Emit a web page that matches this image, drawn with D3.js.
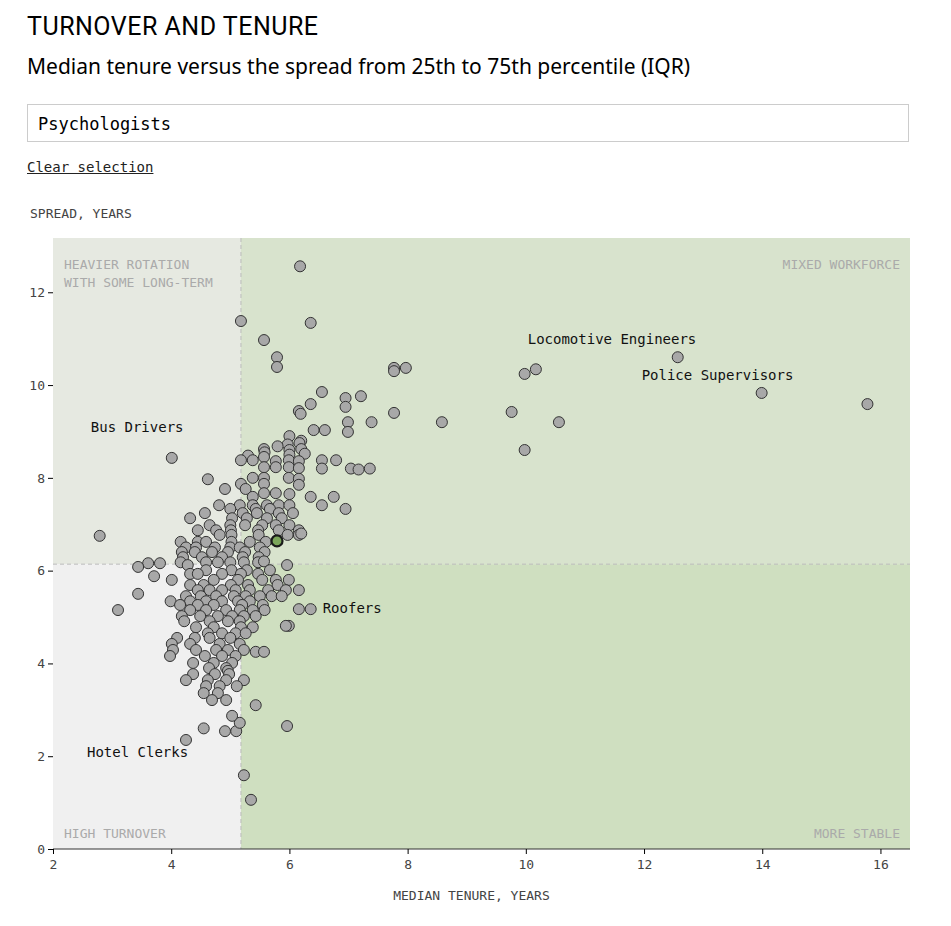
<!DOCTYPE html>
<html><head><meta charset="utf-8">
<script src="https://cdn.jsdelivr.net/npm/d3@7"></script>
<style>
body{margin:0;background:#fff;font-family:"DejaVu Sans Mono",monospace;}
.title{position:absolute;left:27px;top:12px;font:25px "Roboto",sans-serif;letter-spacing:0.5px;}
.sub{position:absolute;left:27px;top:52px;font:21px "Noto Sans",sans-serif;}
.box{position:absolute;left:27px;top:104px;width:882px;height:38px;border:1px solid #ccc;box-sizing:border-box;font-size:17px;padding:9px 10px;}
.clear{position:absolute;left:27px;top:159px;font-size:14px;text-decoration:underline;color:#222;}
svg{position:absolute;left:0;top:0;}
</style></head><body>
<div class="title">TURNOVER AND TENURE</div>
<div class="sub">Median tenure versus the spread from 25th to 75th percentile (IQR)</div>
<div class="box">Psychologists</div>
<div class="clear">Clear selection</div>
<svg width="951" height="926"></script>
<script>
// occupations: [median tenure, IQR spread]
var highlighted = [5.79, 6.64];
var labelled = [
  {name: "Locomotive Engineers", t: 12.57, s: 10.6, dx: -150, dy: -13},
  {name: "Police Supervisors", t: 13.99, s: 9.83, dx: -120, dy: -13},
  {name: "Bus Drivers", t: 4.01, s: 8.43, dx: -81, dy: -26},
  {name: "Roofers", t: 6.36, s: 5.17, dx: 12, dy: 4},
  {name: "Hotel Clerks", t: 4.25, s: 2.35, dx: -99, dy: 17}
];
var points = [
 [6.18,12.56],[5.18,11.38],[6.36,11.34],[5.57,10.97],[5.79,10.6],[5.79,10.39],
 [10.17,10.34],[9.98,10.24],[7.77,10.37],[7.97,10.37],[7.77,10.3],[6.55,9.85],
 [6.95,9.72],[7.21,9.76],[6.95,9.53],[6.36,9.59],[6.16,9.44],[6.19,9.38],[15.78,9.59],
 [9.76,9.42],[7.77,9.4],[8.58,9.2],[10.56,9.2],[7.39,9.2],[6.99,9.2],[6.41,9.03],
 [6.6,9.03],[6.99,8.99],[9.98,8.6],[4.62,7.97],[2.79,6.75],[3.61,6.16],[3.81,6.16],
 [3.44,6.08],[3.71,5.88],[3.44,5.5],[3.1,5.15],[6.16,5.17],[5.99,4.81],[5.94,4.81],
 [5.43,4.25],[5.57,4.25],[5.43,3.1],[5.96,2.65],[4.55,2.6],[5.23,1.59],[5.35,1.06],
 [4.91,2.54],[5.1,2.54],[5.16,2.72],
 [6.0,8.9],[6.2,8.8],[5.97,8.72],[6.17,8.75],[5.8,8.68],[5.57,8.62],
 [5.58,8.55],[6.0,8.6],[6.2,8.62],[5.3,8.48],[5.57,8.45],[6.0,8.5],[6.26,8.52],
 [5.18,8.38],[5.38,8.38],[5.77,8.36],[5.99,8.38],[6.16,8.36],[6.55,8.38],[6.79,8.38],
 [5.57,8.23],[5.77,8.23],[5.99,8.23],[6.16,8.21],[6.55,8.2],[7.04,8.2],[7.36,8.2],[7.17,8.18],
 [5.38,8.0],[5.57,8.0],[5.99,8.0],[6.16,7.98],[5.18,7.87],[5.57,7.87],[6.16,7.85],
 [4.91,7.76],[5.26,7.76],[5.57,7.67],[5.77,7.67],[6.0,7.65],[5.38,7.59],[6.36,7.59],[6.75,7.59],
 [4.81,7.41],[5.16,7.41],[5.38,7.41],[5.62,7.41],[5.82,7.41],[6.0,7.41],[6.55,7.41],
 [5.0,7.33],[5.43,7.33],[5.67,7.33],[6.95,7.33],[4.57,7.24],[5.21,7.24],[5.45,7.24],[5.82,7.24],[6.06,7.24],
 [4.32,7.13],[5.03,7.13],[5.28,7.13],[5.62,7.13],[5.87,7.13],
 [4.65,6.98],[5.0,6.98],[5.25,6.98],[5.54,6.98],[5.77,6.98],[6.0,6.98],
 [4.45,6.87],[4.76,6.87],[5.01,6.87],[5.47,6.87],[5.82,6.87],[6.16,6.87],
 [4.82,6.77],[5.02,6.77],[5.48,6.77],[5.97,6.77],[6.16,6.77],[6.2,6.8],
 [4.16,6.62],[4.45,6.62],[4.59,6.62],[5.02,6.62],[5.33,6.62],[5.6,6.62],
 [4.25,6.5],[4.42,6.5],[4.74,6.5],[5.0,6.5],[5.16,6.5],[5.5,6.5],
 [4.18,6.4],[4.4,6.4],[4.69,6.4],[4.96,6.4],[5.25,6.4],[5.58,6.4],
 [4.2,6.29],[4.52,6.29],[4.86,6.29],[5.21,6.29],[5.48,6.29],
 [4.16,6.18],[4.59,6.18],[4.79,6.18],[5.0,6.18],[5.23,6.18],[5.47,6.18],[5.57,6.2],
 [4.28,6.12],[5.96,6.12],[4.59,6.01],[5.02,6.01],[5.28,6.01],[5.67,6.01],
 [4.32,5.93],[4.45,5.93],[4.86,5.93],[5.18,5.93],[5.47,5.93],
 [4.01,5.8],[4.72,5.8],[5.13,5.8],[5.54,5.8],[5.77,5.8],[5.99,5.8],
 [4.32,5.69],[4.55,5.69],[5.01,5.69],[5.3,5.69],[5.8,5.69],
 [4.45,5.58],[4.65,5.58],[4.86,5.58],[5.09,5.58],[5.33,5.58],[5.64,5.58],[5.94,5.58],[6.16,5.58],
 [4.25,5.45],[4.5,5.45],[4.76,5.45],[5.06,5.45],[5.26,5.45],[5.5,5.45],[5.7,5.45],[5.87,5.45],
 [3.99,5.34],[4.32,5.34],[4.59,5.34],[4.86,5.34],[5.13,5.34],[5.33,5.34],
 [4.15,5.26],[4.45,5.26],[4.72,5.26],[5.2,5.26],[5.55,5.26],
 [4.32,5.15],[4.59,5.15],[4.93,5.15],[5.16,5.15],[5.38,5.15],[5.58,5.15],
 [4.18,5.02],[4.49,5.02],[4.79,5.02],[5.03,5.02],[5.23,5.02],[5.43,5.02],
 [4.22,4.91],[4.65,4.91],[4.96,4.91],[5.16,4.91],
 [4.42,4.78],[4.72,4.78],[5.18,4.78],[5.38,4.78],
 [4.62,4.65],[4.86,4.65],[5.09,4.65],[5.26,4.65],
 [4.1,4.55],[4.4,4.55],[4.65,4.55],[5.0,4.55],
 [4.01,4.42],[4.32,4.42],[4.82,4.42],[5.16,4.42],
 [4.03,4.29],[4.42,4.29],[4.76,4.29],[4.96,4.29],[5.23,4.29],
 [3.98,4.16],[4.57,4.16],[4.86,4.16],[5.09,4.16],
 [4.37,4.01],[4.72,4.01],[5.03,4.01],[4.64,3.9],[4.93,3.9],[4.96,3.84],
 [4.37,3.77],[4.74,3.77],[4.98,3.77],[4.25,3.64],[4.62,3.64],[4.93,3.64],[5.23,3.64],
 [4.59,3.51],[4.82,3.51],[5.11,3.51],[4.55,3.36],[4.79,3.36],[4.69,3.21],[4.93,3.21],[5.03,2.87]
];
var xTicks = [2, 4, 6, 8, 10, 12, 14, 16];
var yTicks = [0, 2, 4, 6, 8, 10, 12];
var split = {t: 5.18, s: 6.14};

var svg = d3.select("svg"),
    margin = {top: 238, right: 41, bottom: 77, left: 53},
    width = 951 - margin.left - margin.right,
    height = 926 - margin.top - margin.bottom,
    g = svg.append("g").attr("transform", "translate(" + margin.left + "," + margin.top + ")");

var x = d3.scaleLinear().domain([2, 16.5]).range([0, width]),
    y = d3.scaleLinear().domain([0, 13.17]).range([height, 0]);

var quads = [
  {x0: 2, x1: split.t, y0: split.s, y1: 13.17, fill: "#e6e9e1"},
  {x0: split.t, x1: 16.5, y0: split.s, y1: 13.17, fill: "#d8e3cd"},
  {x0: 2, x1: split.t, y0: 0, y1: split.s, fill: "#f0f0f0"},
  {x0: split.t, x1: 16.5, y0: 0, y1: split.s, fill: "#cfdfc0"}
];
g.selectAll(".q").data(quads).enter().append("rect")
    .attr("x", function(d) { return x(d.x0); })
    .attr("y", function(d) { return y(d.y1); })
    .attr("width", function(d) { return x(d.x1) - x(d.x0); })
    .attr("height", function(d) { return y(d.y0) - y(d.y1); })
    .attr("fill", function(d) { return d.fill; });

g.append("line").attr("x1", x(split.t)).attr("x2", x(split.t)).attr("y1", 0).attr("y2", height)
    .attr("stroke", "#bbb").attr("stroke-dasharray", "4,3");
g.append("line").attr("x1", 0).attr("x2", width).attr("y1", y(split.s)).attr("y2", y(split.s))
    .attr("stroke", "#bbb").attr("stroke-dasharray", "4,3");

var qlabel = {fill: "#aaa", size: "13px"};
function ql(lines, px, py, anchor) {
  var t = g.append("text").attr("x", px).attr("y", py).attr("text-anchor", anchor)
      .attr("fill", qlabel.fill).style("font-size", qlabel.size);
  lines.forEach(function(l, i) { t.append("tspan").attr("x", px).attr("dy", i ? 18 : 0).text(l); });
}
ql(["HEAVIER ROTATION", "WITH SOME LONG-TERM"], 11, 31, "start");
ql(["MIXED WORKFORCE"], width - 10, 31, "end");
ql(["HIGH TURNOVER"], 11, height - 11, "start");
ql(["MORE STABLE"], width - 10, height - 11, "end");

var xa = g.append("g").attr("transform", "translate(0," + height + ")")
    .call(d3.axisBottom(x).tickValues(xTicks).tickSize(5).tickPadding(6));
var ya = g.append("g").call(d3.axisLeft(y).tickValues(yTicks).tickSize(5).tickPadding(3));
[xa, ya].forEach(function(a) {
  a.select(".domain").attr("stroke", "#333");
  a.selectAll("text").style("font-size", "13px").style("font-family", "DejaVu Sans Mono").attr("fill", "#444");
});
ya.select(".domain").remove();
xa.select(".domain").attr("d", "M0,0H" + width);

svg.append("text").attr("x", 30).attr("y", 218).style("font-size", "13px").attr("fill", "#444").text("SPREAD, YEARS");
svg.append("text").attr("x", margin.left + width / 2 - 10).attr("y", 900).attr("text-anchor", "middle")
    .style("font-size", "13px").attr("fill", "#444").text("MEDIAN TENURE, YEARS");

var all = points.concat(labelled.map(function(d) { return [d.t, d.s]; }));
g.selectAll(".dot").data(all).enter().append("circle")
    .attr("cx", function(d) { return x(d[0]); })
    .attr("cy", function(d) { return y(d[1]); })
    .attr("r", 5.5)
    .attr("fill", "#a8a8a8").attr("stroke", "#333").attr("stroke-width", 1);

g.append("circle").attr("cx", x(highlighted[0])).attr("cy", y(highlighted[1])).attr("r", 5.5)
    .attr("fill", "#7ba65a").attr("stroke", "#1a1a1a").attr("stroke-width", 2.2);

g.selectAll(".lab").data(labelled).enter().append("text")
    .attr("x", function(d) { return x(d.t) + d.dx; })
    .attr("y", function(d) { return y(d.s) + d.dy; })
    .style("font-size", "14px").attr("fill", "#111")
    .text(function(d) { return d.name; });
</script>
</body></html>
